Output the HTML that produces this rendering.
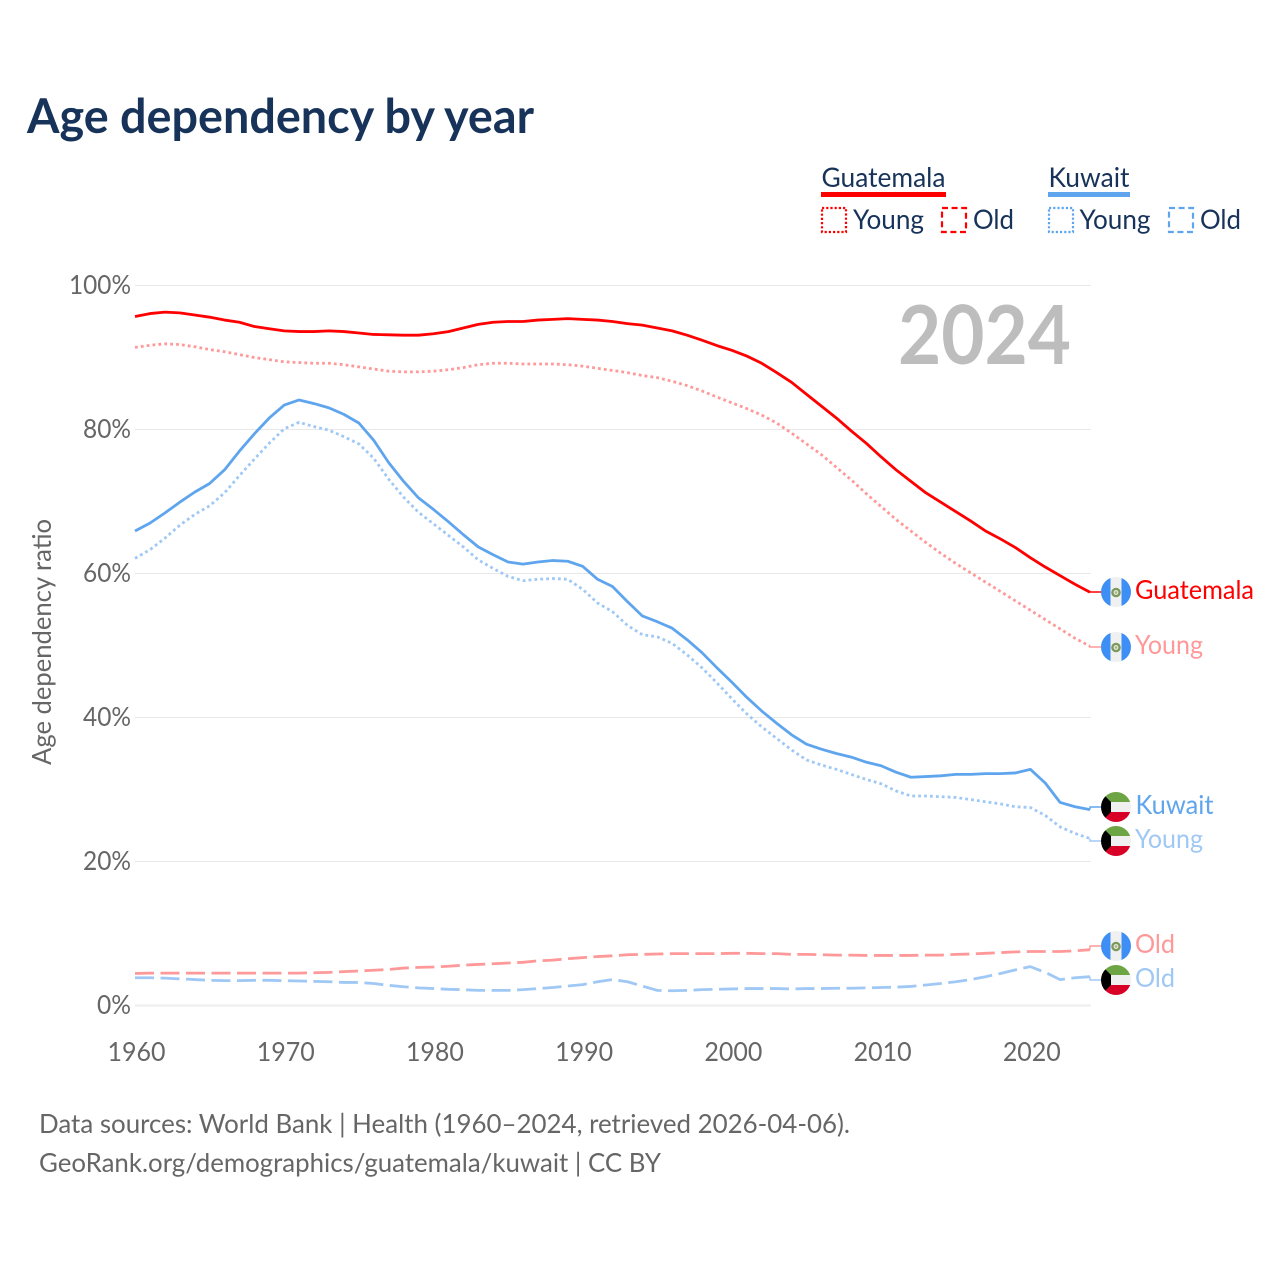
<!DOCTYPE html>
<html lang="en">
<head>
<meta charset="utf-8">
<title>Age dependency by year</title>
<style>
html,body{margin:0;padding:0;background:#fff}
svg{display:block}
text{font-family:"Lato","Carlito","Liberation Sans",sans-serif}
</style>
</head>
<body>
<svg id="chart" xmlns="http://www.w3.org/2000/svg" width="1280" height="1280" viewBox="0 0 1280 1280">
  <defs>
    <clipPath id="flag-clip"><circle cx="0" cy="0" r="15"/></clipPath>
    <g id="flag-gt" clip-path="url(#flag-clip)">
      <rect x="-15" y="-15" width="30" height="30" fill="#f0f0f0"/>
      <rect x="-15" y="-15" width="9.5" height="30" fill="#3d8ff5"/>
      <rect x="5.5" y="-15" width="9.5" height="30" fill="#3d8ff5"/>
      <circle cx="0" cy="0.5" r="3.6" fill="none" stroke="#7a9a5a" stroke-width="2.4"/>
      <circle cx="0" cy="0.5" r="1.4" fill="#b8b08a"/>
    </g>
    <g id="flag-kw" clip-path="url(#flag-clip)">
      <rect x="-15" y="-15" width="30" height="10" fill="#6da544"/>
      <rect x="-15" y="-5" width="30" height="10" fill="#f0f0f0"/>
      <rect x="-15" y="5" width="30" height="10" fill="#d80027"/>
      <polygon points="-15,-15 -5,-5 -5,5 -15,15" fill="#000"/>
    </g>
  </defs>

  <text x="27" y="133" font-size="48" font-weight="700" fill="#17335a" textLength="507" lengthAdjust="spacingAndGlyphs">Age dependency by year</text>

  <g>
    <g>
      <text x="821.5" y="187" font-size="27" fill="#17335a" textLength="124" lengthAdjust="spacingAndGlyphs">Guatemala</text>
      <rect x="821" y="192" width="125" height="5" fill="#ff0000"/>
    </g>
    <g>
      <rect x="822" y="208" width="24" height="24" fill="none" stroke="#ff0000" stroke-width="2.2" stroke-dasharray="2.2 2"/>
      <text x="853" y="229" font-size="27" fill="#17335a" textLength="71" lengthAdjust="spacingAndGlyphs">Young</text>
    </g>
    <g>
      <rect x="942" y="208" width="24" height="24" fill="none" stroke="#ff0000" stroke-width="2.2" stroke-dasharray="6 3.6"/>
      <text x="973" y="229" font-size="27" fill="#17335a" textLength="41" lengthAdjust="spacingAndGlyphs">Old</text>
    </g>
    <g>
      <text x="1048.5" y="187" font-size="27" fill="#17335a" textLength="81" lengthAdjust="spacingAndGlyphs">Kuwait</text>
      <rect x="1048" y="192" width="82" height="5" fill="#5fa5ee"/>
    </g>
    <g>
      <rect x="1049" y="208" width="24" height="24" fill="none" stroke="#5fa5ee" stroke-width="2.2" stroke-dasharray="2.2 2"/>
      <text x="1079.5" y="229" font-size="27" fill="#17335a" textLength="71" lengthAdjust="spacingAndGlyphs">Young</text>
    </g>
    <g>
      <rect x="1169" y="208" width="24" height="24" fill="none" stroke="#5fa5ee" stroke-width="2.2" stroke-dasharray="6 3.6"/>
      <text x="1200" y="229" font-size="27" fill="#17335a" textLength="41" lengthAdjust="spacingAndGlyphs">Old</text>
    </g>
  </g>

  <g id="grid"></g>
  <g id="yticks"></g>
  <g id="xticks"></g>

  <text transform="translate(51,642) rotate(-90)" text-anchor="middle" font-size="26" fill="#666666" textLength="246" lengthAdjust="spacingAndGlyphs">Age dependency ratio</text>

  <text x="1071" y="364" text-anchor="end" font-size="81" font-weight="700" fill="#bdbdbd" textLength="173" lengthAdjust="spacingAndGlyphs">2024</text>

  <g id="series"></g>

  <g>
    <use href="#flag-gt" x="1116" y="592"/>
    <text x="1135" y="599" font-size="26.5" fill="#ff0000" textLength="119" lengthAdjust="spacingAndGlyphs">Guatemala</text>
    <use href="#flag-gt" x="1116" y="647"/>
    <text x="1135" y="654" font-size="26.5" fill="#ff9999" textLength="68" lengthAdjust="spacingAndGlyphs">Young</text>
    <use href="#flag-kw" x="1116" y="807"/>
    <text x="1135.5" y="814" font-size="26.5" fill="#5fa5ee" textLength="78" lengthAdjust="spacingAndGlyphs">Kuwait</text>
    <use href="#flag-kw" x="1116" y="841"/>
    <text x="1135" y="848" font-size="26.5" fill="#9fc8f5" textLength="68" lengthAdjust="spacingAndGlyphs">Young</text>
    <use href="#flag-gt" x="1116" y="946"/>
    <text x="1135" y="953" font-size="26.5" fill="#ff9999" textLength="40" lengthAdjust="spacingAndGlyphs">Old</text>
    <use href="#flag-kw" x="1116" y="980"/>
    <text x="1135" y="987" font-size="26.5" fill="#9fc8f5" textLength="40" lengthAdjust="spacingAndGlyphs">Old</text>
  </g>

  <text x="39" y="1133" font-size="26.5" fill="#666666" textLength="811" lengthAdjust="spacingAndGlyphs">Data sources: World Bank | Health (1960–2024, retrieved 2026-04-06).</text>
  <text x="39" y="1172" font-size="26.5" fill="#666666" textLength="622" lengthAdjust="spacingAndGlyphs">GeoRank.org/demographics/guatemala/kuwait | CC BY</text>
</svg>

<script>
const startYear = 1960;
const endYear = 2024;
const yTickValues = [0, 20, 40, 60, 80, 100];
const yTickLabels = ["0%", "20%", "40%", "60%", "80%", "100%"];
const xTickValues = [1960, 1970, 1980, 1990, 2000, 2010, 2020];
const xTickLabels = ["1960", "1970", "1980", "1990", "2000", "2010", "2020"];

const guatemalaTotal = [95.7,96.1,96.3,96.2,95.9,95.6,95.2,94.9,94.3,94.0,93.7,93.6,93.6,93.7,93.6,93.4,93.2,93.15,93.1,93.1,93.3,93.6,94.1,94.6,94.9,95.0,95.0,95.2,95.3,95.4,95.3,95.2,95.0,94.7,94.5,94.1,93.7,93.1,92.4,91.65,91.0,90.2,89.2,87.9,86.55,84.9,83.25,81.6,79.8,78.1,76.2,74.4,72.8,71.2,69.9,68.6,67.3,65.9,64.8,63.6,62.2,60.9,59.7,58.5,57.4];
const guatemalaYoung = [91.4,91.7,91.9,91.8,91.5,91.1,90.8,90.4,90.0,89.7,89.4,89.3,89.2,89.2,89.0,88.7,88.4,88.1,88.0,88.0,88.1,88.3,88.6,89.0,89.2,89.2,89.1,89.1,89.1,89.0,88.8,88.5,88.2,87.9,87.5,87.2,86.7,86.1,85.35,84.5,83.7,82.9,82.0,80.9,79.5,78.0,76.5,74.75,73.0,71.1,69.3,67.5,65.9,64.3,62.8,61.4,60.1,58.8,57.5,56.2,54.9,53.6,52.3,51.0,49.9];
const guatemalaOld = [4.45,4.5,4.5,4.5,4.5,4.5,4.5,4.5,4.5,4.5,4.5,4.5,4.55,4.6,4.7,4.8,4.9,5.0,5.2,5.3,5.35,5.45,5.6,5.7,5.8,5.9,6.0,6.2,6.3,6.5,6.65,6.8,6.9,7.05,7.1,7.15,7.2,7.2,7.2,7.2,7.25,7.25,7.2,7.2,7.1,7.1,7.05,7.0,7.0,6.95,6.95,6.95,6.95,7.0,7.0,7.1,7.15,7.25,7.35,7.45,7.5,7.5,7.5,7.6,7.75];
const kuwaitTotal = [65.9,67.0,68.4,69.9,71.3,72.5,74.4,77.0,79.4,81.6,83.4,84.1,83.6,83.0,82.1,80.9,78.5,75.4,72.8,70.5,68.9,67.2,65.4,63.7,62.6,61.6,61.3,61.6,61.8,61.7,61.0,59.2,58.2,56.1,54.1,53.3,52.4,50.8,49.0,46.9,44.9,42.8,40.9,39.2,37.6,36.3,35.6,35.0,34.5,33.8,33.3,32.4,31.7,31.8,31.9,32.1,32.1,32.2,32.2,32.3,32.8,30.9,28.2,27.6,27.2];
const kuwaitYoung = [62.1,63.3,64.9,66.7,68.2,69.4,71.2,73.6,75.9,78.1,80.1,81.0,80.4,79.9,79.0,78.0,76.0,73.1,70.6,68.5,66.9,65.3,63.7,61.9,60.7,59.6,59.0,59.2,59.3,59.2,57.8,55.9,54.7,52.8,51.5,51.2,50.3,48.7,46.9,44.8,42.6,40.5,38.7,37.1,35.5,34.1,33.4,32.8,32.1,31.4,30.8,29.8,29.1,29.1,29.0,28.9,28.6,28.3,28.0,27.6,27.5,26.4,24.8,23.9,23.2];
const kuwaitOld = [3.85,3.85,3.8,3.7,3.6,3.5,3.45,3.45,3.5,3.5,3.45,3.4,3.35,3.3,3.2,3.2,3.05,2.8,2.6,2.45,2.35,2.25,2.2,2.1,2.1,2.1,2.2,2.35,2.5,2.7,2.9,3.3,3.6,3.3,2.7,2.1,2.05,2.1,2.2,2.25,2.3,2.35,2.35,2.35,2.3,2.35,2.35,2.4,2.4,2.45,2.5,2.55,2.65,2.85,3.05,3.3,3.6,4.0,4.45,4.95,5.4,4.6,3.6,3.85,4.0];

function xScale(year) {
  return 135 + (year - startYear) * (1090 - 135) / (endYear - startYear);
}
function yScale(value) {
  return 1005.5 - value * 7.2;
}
const NS = "http://www.w3.org/2000/svg";

const gridGroup = document.getElementById("grid");
const yTickGroup = document.getElementById("yticks");
yTickValues.forEach(function (v, i) {
  const gl = document.createElementNS(NS, "line");
  
  
  gl.setAttribute("x1", 135);
  gl.setAttribute("x2", 1091);
  gl.setAttribute("y1", yScale(v));
  gl.setAttribute("y2", yScale(v));
  gl.setAttribute("stroke", v === 0 ? "#eeeeee" : "#e8e8e8");
  gl.setAttribute("stroke-width", v === 0 ? 2 : 1);
  gridGroup.appendChild(gl);

  const t = document.createElementNS(NS, "text");
  
  
  t.setAttribute("x", 131);
  t.setAttribute("y", yScale(v) + 8.5);
  t.setAttribute("text-anchor", "end");
  t.setAttribute("font-size", "26");
  t.setAttribute("fill", "#666666");
  t.setAttribute("textLength", [34, 48, 48, 48, 48, 62][i]);
  t.setAttribute("lengthAdjust", "spacingAndGlyphs");
  t.textContent = yTickLabels[i];
  yTickGroup.appendChild(t);
});

const xTickGroup = document.getElementById("xticks");
xTickValues.forEach(function (v, i) {
  const t = document.createElementNS(NS, "text");
  
  
  t.setAttribute("x", xScale(v) + 1.5);
  t.setAttribute("y", 1061);
  t.setAttribute("text-anchor", "middle");
  t.setAttribute("font-size", "26");
  t.setAttribute("fill", "#666666");
  t.setAttribute("textLength", "58");
  t.setAttribute("lengthAdjust", "spacingAndGlyphs");
  t.textContent = xTickLabels[i];
  xTickGroup.appendChild(t);
});

function drawSeries(name, values, color, dash, labelY) {
  const group = document.getElementById("series");
  const d = values.map(function (v, i) {
    return (i ? "L" : "M") + xScale(startYear + i).toFixed(2) + " " + yScale(v).toFixed(2);
  }).join(" ");
  const p = document.createElementNS(NS, "path");
  
  
  p.setAttribute("d", d);
  p.setAttribute("fill", "none");
  p.setAttribute("stroke", color);
  p.setAttribute("stroke-width", "2.8");
  p.setAttribute("stroke-linejoin", "round");
  if (dash) p.setAttribute("stroke-dasharray", dash);
  group.appendChild(p);

  const endX = xScale(endYear);
  const endY = yScale(values[values.length - 1]);
  const c = document.createElementNS(NS, "path");
  
  
  c.setAttribute("d", "M" + endX + " " + endY.toFixed(2) + " L" + endX + " " + labelY + " L1101 " + labelY);
  c.setAttribute("fill", "none");
  c.setAttribute("stroke", color);
  c.setAttribute("stroke-width", "1.4");
  group.appendChild(c);
}

drawSeries("line-guatemala-total", guatemalaTotal, "#ff0000", "", 592);
drawSeries("line-guatemala-young", guatemalaYoung, "#ff9999", "2.8 3.1", 647);
drawSeries("line-guatemala-old", guatemalaOld, "#ff9999", "19 6.5", 946);
drawSeries("line-kuwait-total", kuwaitTotal, "#5fa5ee", "", 807);
drawSeries("line-kuwait-young", kuwaitYoung, "#9fc8f5", "2.8 3.1", 841);
drawSeries("line-kuwait-old", kuwaitOld, "#9fc8f5", "19 6.5", 980);
</script>
</body>
</html>
